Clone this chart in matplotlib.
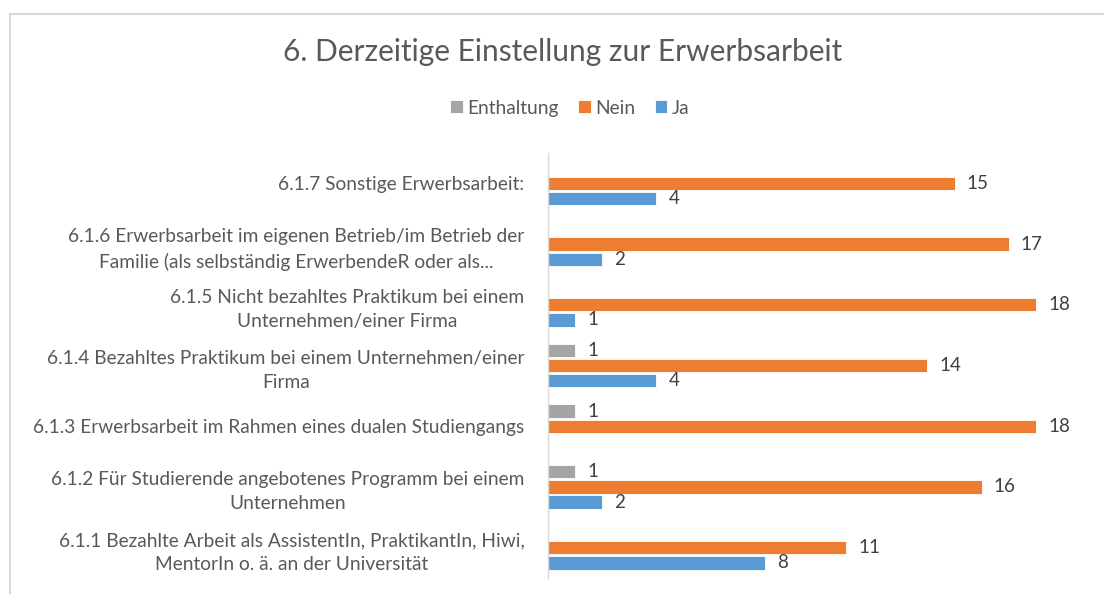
import matplotlib
matplotlib.use("Agg")
import matplotlib.pyplot as plt
import numpy as np
from matplotlib.lines import Line2D

# categories bottom -> top
categories = [
    "6.1.1 Bezahlte Arbeit als AssistentIn, PraktikantIn, Hiwi,\nMentorIn o. ä. an der Universität",
    "6.1.2 Für Studierende angebotenes Programm bei einem\nUnternehmen",
    "6.1.3 Erwerbsarbeit im Rahmen eines dualen Studiengangs",
    "6.1.4 Bezahltes Praktikum bei einem Unternehmen/einer\nFirma",
    "6.1.5 Nicht bezahltes Praktikum bei einem\nUnternehmen/einer Firma",
    "6.1.6 Erwerbsarbeit im eigenen Betrieb/im Betrieb der\nFamilie (als selbständig ErwerbendeR oder als...",
    "6.1.7 Sonstige Erwerbsarbeit:",
]
enthaltung = [0, 1, 1, 1, 0, 0, 0]
nein = [11, 16, 18, 14, 18, 17, 15]
ja = [8, 2, 0, 4, 1, 2, 4]

series = [("Enthaltung", enthaltung, "#a5a5a5", 0.25),
          ("Nein", nein, "#ed7d31", 0.0),
          ("Ja", ja, "#5b9bd5", -0.25)]

plt.rcParams['font.family'] = ['Lato', 'DejaVu Sans']
text_col = "#595959"

fig = plt.figure(figsize=(11.04, 5.94), dpi=100)
ax = fig.add_axes([548 / 1104, 1 - 578 / 594, 542 / 1104, 425 / 594])

y = np.arange(len(categories))
handles = []
for name, vals, col, off in series:
    v = np.array(vals, dtype=float)
    mask = v > 0
    bars = ax.barh(y[mask] + off, v[mask], height=0.22, color=col,
                   edgecolor="white", linewidth=0.6, label=name)
    for b, val in zip(bars, v[mask]):
        ax.text(b.get_width() + 0.45, b.get_y() + b.get_height() / 2,
                f"{int(val)}", va="center", ha="left", fontsize=13.5, color="#404040")
    handles.append(bars)

ax.set_ylim(-0.5, len(categories) - 0.5)
ax.set_xlim(0, 20)
ax.set_yticks(y)
ax.set_yticklabels(categories, fontsize=13.8, color=text_col, multialignment="center",
                   linespacing=1.5)
ax.tick_params(axis="y", length=0, pad=17)
ax.set_xticks([])
for s in ["top", "right", "bottom"]:
    ax.spines[s].set_visible(False)
ax.spines["left"].set_color("#d9d9d9")
ax.spines["left"].set_linewidth(1.0)

fig.text(563 / 1104, 1 - 52 / 594, "6. Derzeitige Einstellung zur Erwerbsarbeit",
         ha="center", va="center", fontsize=21.5, color=text_col)

leg = fig.legend(handles=handles, loc="center", bbox_to_anchor=(570 / 1104, 1 - 108 / 594),
                 ncol=3, frameon=False, fontsize=13.8, handlelength=0.65, handleheight=0.65,
                 handletextpad=0.25, columnspacing=1.0)
for t in leg.get_texts():
    t.set_color(text_col)

# chart border (top and left visible)
fig.add_artist(Line2D([10 / 1104, 10 / 1104], [0, 1 - 14 / 594], transform=fig.transFigure,
                      color="#d9d9d9", linewidth=1.5))
fig.add_artist(Line2D([10 / 1104, 1], [1 - 14 / 594, 1 - 14 / 594], transform=fig.transFigure,
                      color="#d9d9d9", linewidth=1.5))

fig.savefig("out.png", dpi=100)
